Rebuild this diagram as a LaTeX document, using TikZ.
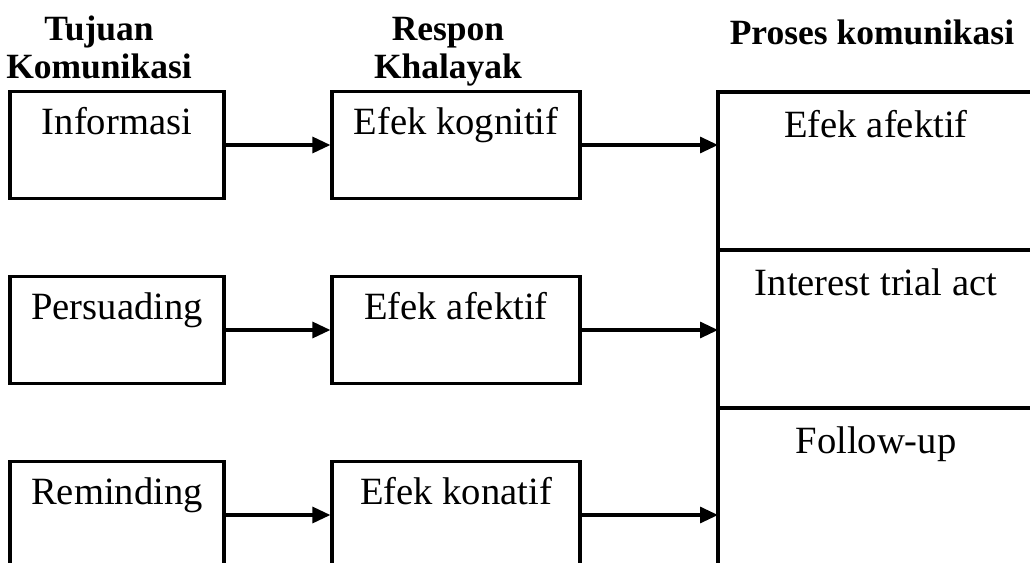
\documentclass[tikz,border=0pt]{standalone}
\usepackage{fontspec}
\setmainfont{Liberation Serif}
\usetikzlibrary{arrows.meta}

\begin{document}
\begin{tikzpicture}[x=0.5pt, y=-0.5pt,
    kotak/.style={draw, line width=1.6pt, inner sep=0pt, text height=21.5pt, text depth=32pt,
      font=\fontsize{19.3}{22}\selectfont},
    tujuan/.style={kotak, minimum width=107pt},
    respon/.style={kotak, minimum width=124pt},
    proses/.style={kotak, outer sep=0pt, minimum width=158pt, text height=22.5pt, text depth=56.5pt},
    judul/.style={inner sep=0pt, align=center, font=\fontsize{17.75}{19}\selectfont\bfseries,
      execute at begin node={\rule{0pt}{14pt}}},
    panah/.style={line width=1.6pt, -{Triangle[length=9pt,width=8pt]}}]
  \useasboundingbox (0,0) rectangle (1030,563);
  \clip (0,0) rectangle (1030,563);

  % judul kolom
  \node[judul, anchor=north] (h1) at (99,15) {Tujuan\\Komunikasi};
  \node[judul, anchor=north] (h2) at (448,17) {Respon\\Khalayak};
  \node[judul, anchor=base] (h3) at (872,44) {Proses komunikasi};

  % tujuan komunikasi
  \node[tujuan] (a1) at (117,145) {Informasi};
  \node[tujuan] (a2) at (117,330) {Persuading};
  \node[tujuan] (a3) at (117,515) {Reminding};

  % respon khalayak
  \node[respon] (b1) at (456,145) {Efek kognitif};
  \node[respon] (b2) at (456,330) {Efek afektif};
  \node[respon] (b3) at (456,515) {Efek konatif};

  % proses komunikasi
  \node[proses] (p1) at (876,171) {Efek afektif};
  \node[proses, anchor=north] (p2) at (p1.south) {Interest trial act};
  \node[proses, anchor=north] (p3) at (p2.south) {Follow-up};

  \draw[panah] (a1) -- (b1);
  \draw[panah] (a2) -- (b2);
  \draw[panah] (a3) -- (b3);
  \draw[panah] (b1) -- (b1 -| p1.west);
  \draw[panah] (b2) -- (b2 -| p2.west);
  \draw[panah] (b3) -- (b3 -| p3.west);
\end{tikzpicture}
\end{document}
